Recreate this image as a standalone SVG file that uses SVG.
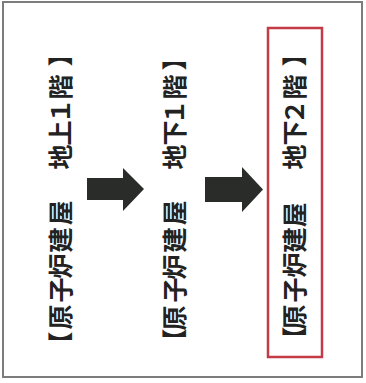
<svg xmlns="http://www.w3.org/2000/svg" width="366" height="383" viewBox="0 0 366 383">
<style>
.lbl{font-family:"Noto Sans CJK JP","Noto Sans CJK SC",sans-serif;font-size:25px;font-weight:700;fill:#222;text-anchor:middle}
.arrow{fill:#2a2c2a}
</style>
<rect x="0" y="0" width="366" height="383" fill="#fff"/>
<rect x="3" y="2" width="359" height="375" fill="none" stroke="#7c7c7c" stroke-width="2"/>
<g id="node1">
<text class="lbl" transform="rotate(-90)" x="-344 -317 -290 -266 -240 -213 -185 -157 -133 -111 -87 -54" y="69.5">【原子炉建屋　地上１階】</text>
</g>
<g id="node2">
<text class="lbl" transform="rotate(-90)" x="-341 -318 -290 -267 -240 -213 -185 -157 -133 -112 -87 -58" y="184">【原子炉建屋　地下１階】</text>
</g>
<g id="node3">
<rect x="268" y="28" width="54" height="329" fill="none" stroke="#c23b45" stroke-width="2.5"/>
<text class="lbl" transform="rotate(-90)" x="-339 -317 -290 -265 -240 -215 -186 -157 -133 -112 -87 -54" y="304">【原子炉建屋　地下２階】</text>
</g>
<g id="connectors">
<polygon class="arrow" points="87,178 123,178 123,168 144,189 123,211 123,200 87,200"/>
<polygon class="arrow" points="205,177 242,177 242,167 263,189.5 242,212 242,202 205,202"/>
</g>
</svg>
